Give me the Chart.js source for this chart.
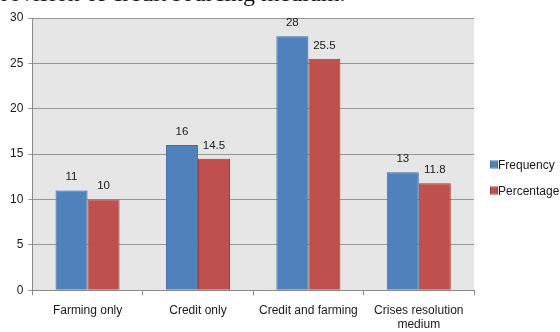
<!DOCTYPE html>
<html>
<head>
<meta charset="utf-8">
<script src="https://cdn.jsdelivr.net/npm/chart.js@4"></script>
<style>
  html, body { margin: 0; padding: 0; background: #fff; }
  #wrap { position: relative; width: 560px; height: 332px; overflow: hidden; }
  #caption {
    position: absolute; left: -11px; top: -19px;
    font-family: "Liberation Serif", "Times New Roman", serif;
    font-size: 24px; line-height: 24px; color: #111; white-space: nowrap;
  }
  canvas { position: absolute; left: 0; top: 0; }
</style>
</head>
<body>
<div id="wrap">
  <!-- canvas runs a little past the bottom edge, so the second label line is clipped -->
  <canvas id="myBarChart" width="560" height="334"></canvas>
  <div id="caption">provision of credit sourcing medium.</div>
</div>
<script>
    const categories = ['Farming only', 'Credit only', 'Credit and farming', ['Crises resolution', 'medium']];
    const frequency = [11, 16, 28, 13];
    const percentage = [10, 14.5, 25.5, 11.8];
    const yTicks = [0, 5, 10, 15, 20, 25, 30];

    const blue = '#4f81bd';
    const red = '#c0504d';

    // gray plot background
    const plotBackground = {
        id: 'plotBackground',
        beforeDraw(chart) {
            const { ctx, chartArea: a } = chart;
            ctx.save();
            ctx.fillStyle = '#e6e6e6';
            ctx.fillRect(a.left, a.top, a.right - a.left, a.bottom - a.top);
            ctx.restore();
        }
    };

    // value labels on top of each bar
    const barValues = {
        id: 'barValues',
        afterDatasetsDraw(chart) {
            const ctx = chart.ctx;
            ctx.save();
            ctx.font = '11.5px "Liberation Sans", Arial, sans-serif';
            ctx.fillStyle = '#1a1a1a';
            ctx.textAlign = 'center';
            ctx.textBaseline = 'alphabetic';
            chart.data.datasets.forEach((ds, i) => {
                chart.getDatasetMeta(i).data.forEach((bar, j) => {
                    ctx.fillText(String(ds.data[j]), bar.x, bar.y - 10);
                });
            });
            ctx.restore();
        }
    };

    // legend on the right, small square swatches
    const sideLegend = {
        id: 'sideLegend',
        afterDraw(chart) {
            const ctx = chart.ctx;
            ctx.save();
            ctx.font = '12px "Liberation Sans", Arial, sans-serif';
            ctx.textBaseline = 'middle';
            chart.data.datasets.forEach((ds, i) => {
                const y = 164.5 + i * 26;
                ctx.fillStyle = ds.backgroundColor;
                ctx.fillRect(491, y - 3, 6, 6);
                ctx.strokeStyle = ds.borderColor;
                ctx.lineWidth = 1;
                ctx.strokeRect(490.5, y - 3.5, 7, 7);
                ctx.fillStyle = '#1a1a1a';
                ctx.fillText(ds.label, 498, y + 1);
            });
            ctx.restore();
        }
    };

    const data = {
        labels: categories,
        datasets: [
            {
                label: 'Frequency',
                data: frequency,
                backgroundColor: blue,
                borderColor: '#3f6b9e',
                borderWidth: 1
            },
            {
                label: 'Percentage',
                data: percentage,
                backgroundColor: red,
                borderColor: '#9e3b38',
                borderWidth: 1
            }
        ]
    };

    const config = {
        type: 'bar',
        data: data,
        options: {
            responsive: false,
            animation: false,
            categoryPercentage: 0.58,
            barPercentage: 1,
            layout: {
                padding: { top: 18, right: 86, bottom: -6, left: 5 }
            },
            scales: {
                x: {
                    grid: {
                        offset: true,
                        drawOnChartArea: false,
                        drawTicks: true,
                        tickLength: 5,
                        color: '#8a8a8a'
                    },
                    border: { color: '#8a8a8a' },
                    ticks: {
                        color: '#1a1a1a',
                        padding: 8,
                        maxRotation: 0,
                        font: { family: '"Liberation Sans", Arial, sans-serif', size: 12 }
                    }
                },
                y: {
                    min: 0,
                    max: 30,
                    afterBuildTicks(axis) {
                        axis.ticks = yTicks.map(v => ({ value: v }));
                    },
                    grid: {
                        color: '#969696',
                        tickLength: 4
                    },
                    border: { color: '#8a8a8a' },
                    ticks: {
                        color: '#1a1a1a',
                        padding: 5,
                        font: { family: '"Liberation Sans", Arial, sans-serif', size: 12 }
                    }
                }
            },
            plugins: {
                legend: { display: false },
                tooltip: { enabled: false }
            }
        },
        plugins: [plotBackground, barValues, sideLegend]
    };

    const myBarChart = new Chart(document.getElementById('myBarChart'), config);
</script>
</body>
</html>
